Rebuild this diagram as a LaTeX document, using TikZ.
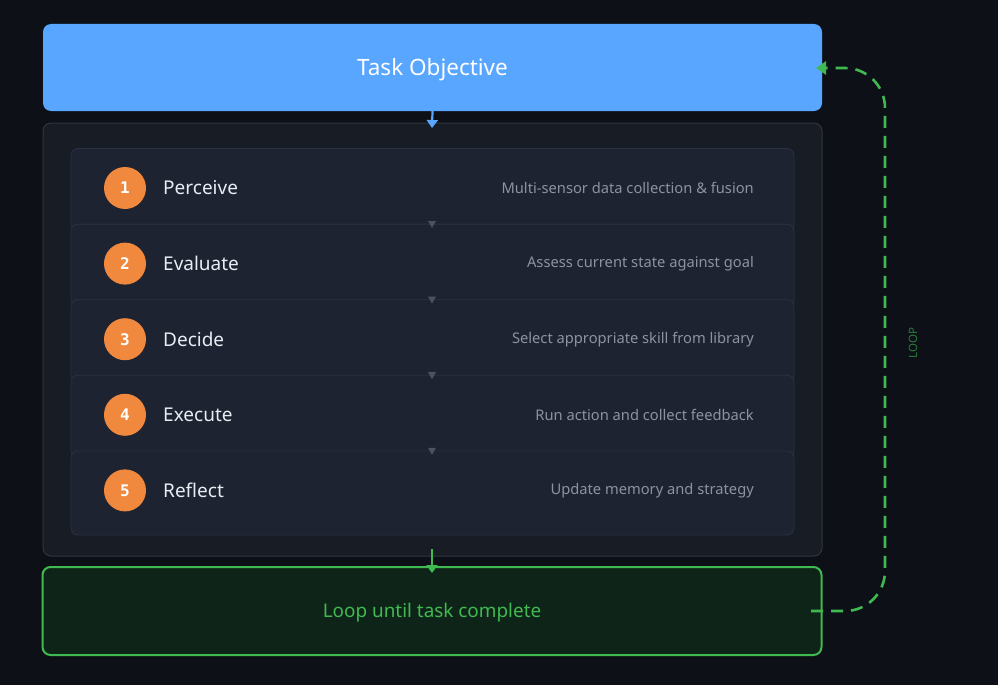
\documentclass[tikz,border=0pt]{standalone}
\usepackage{fontspec}
\setmainfont{Noto Sans}
\newfontfamily\numfont{DejaVu Sans Mono}
\usetikzlibrary{arrows.meta}
\definecolor{bgc}{HTML}{0D1117}
\definecolor{blueC}{HTML}{58A6FF}
\definecolor{contC}{HTML}{181C25}
\definecolor{contB}{HTML}{30363D}
\definecolor{cardC}{HTML}{1E2331}
\definecolor{cardB}{HTML}{2A3142}
\definecolor{orangeC}{HTML}{F0883E}
\definecolor{titleC}{HTML}{E6EDF3}
\definecolor{descC}{HTML}{8B949E}
\definecolor{greenC}{HTML}{3FB950}
\definecolor{greenF}{HTML}{0F2418}
\definecolor{triC}{HTML}{4A5263}
\definecolor{loopT}{HTML}{2C7A3A}
\begin{document}
\begin{tikzpicture}[x=1pt,y=-1pt,
  card/.style={draw=cardB,fill=cardC,line width=0.8pt,rounded corners=7pt},
  badge/.style={circle,fill=orangeC,minimum size=42pt,inner sep=0pt,text=white,font=\numfont\bfseries\fontsize{16}{16}\selectfont},
  steptitle/.style={anchor=west,text=titleC,font=\fontsize{19}{20}\selectfont,inner sep=0pt},
  stepdesc/.style={anchor=east,text=descC,font=\fontsize{14.7}{16}\selectfont,inner sep=0pt},
  tri/.style={fill=triC},
  flowarrow/.style={line width=2.2pt,-{Triangle[length=8pt,width=11pt]}},
  loopline/.style={draw=greenC,line width=2.6pt,dash pattern=on 12pt off 8pt}
]
\useasboundingbox (0,0) rectangle (998,685);
\fill[bgc] (0,0) rectangle (998,685);

% Task objective
\node[fill=blueC,rounded corners=8pt,minimum width=779pt,minimum height=87pt,inner sep=0pt] (task) at (432.5,67.5) {};
\node[text=white,font=\fontsize{22.5}{24}\selectfont,inner sep=0pt] (tasktxt) at (432.5,69.5) {Task Objective};

% container
\node[draw=contB,fill=contC,line width=1pt,rounded corners=8pt,minimum width=779pt,minimum height=433pt,inner sep=0pt] (cont) at (432.5,339.5) {};

% cards
\foreach \i/\t/\d in {1/Perceive/Multi-sensor data collection \& fusion,
                      2/Evaluate/Assess current state against goal,
                      3/Decide/Select appropriate skill from library,
                      4/Execute/Run action and collect feedback,
                      5/Reflect/Update memory and strategy}{
  \pgfmathsetmacro{\yc}{188+(\i-1)*75.6}
  \node[card,minimum width=723pt,minimum height=84pt,inner sep=0pt] (card\i) at (432.5,\yc+2.5) {};
  \node[badge] (b\i) at (125,\yc) {\i};
  \node[steptitle] (t\i) at (163,\yc) {\t};
  \node[stepdesc] (d\i) at (754,\yc) {\d};
}
% small triangles between cards
\foreach \i in {1,2,3,4}{
  \pgfmathsetmacro{\ty}{225+(\i-1)*75.6}
  \fill[tri] (428,\ty-4) -- (436,\ty-4) -- (432,\ty+3) -- cycle;
}

% loop box
\node[draw=greenC,fill=greenF,line width=2pt,rounded corners=8pt,minimum width=779pt,minimum height=88pt,inner sep=0pt] (loop) at (432,611) {};
\node[text=greenC,font=\fontsize{18.9}{20}\selectfont,inner sep=0pt] (looptxt) at (432,612.5) {Loop until task complete};

% arrows
\coordinate (gtip) at (432,573);
\draw[blueC,flowarrow] (task.south) -- (432,128);
\draw[greenC,flowarrow] (432,549) -- (gtip);

% loop path
\coordinate (ls) at (811,611);
\coordinate (le) at (816,68);
\draw[loopline,-{Triangle[length=10pt,width=13pt]}] (ls) -- (845,611) .. controls (867,611) and (885,593) .. (885,571) -- (885,108) .. controls (885,86) and (867,68) .. (845,68) -- (le);

\node[rotate=90,text=loopT,font=\fontsize{11.5}{12}\selectfont,inner sep=0pt] (looplbl) at (913,343) {LOOP};
\end{tikzpicture}
\end{document}
